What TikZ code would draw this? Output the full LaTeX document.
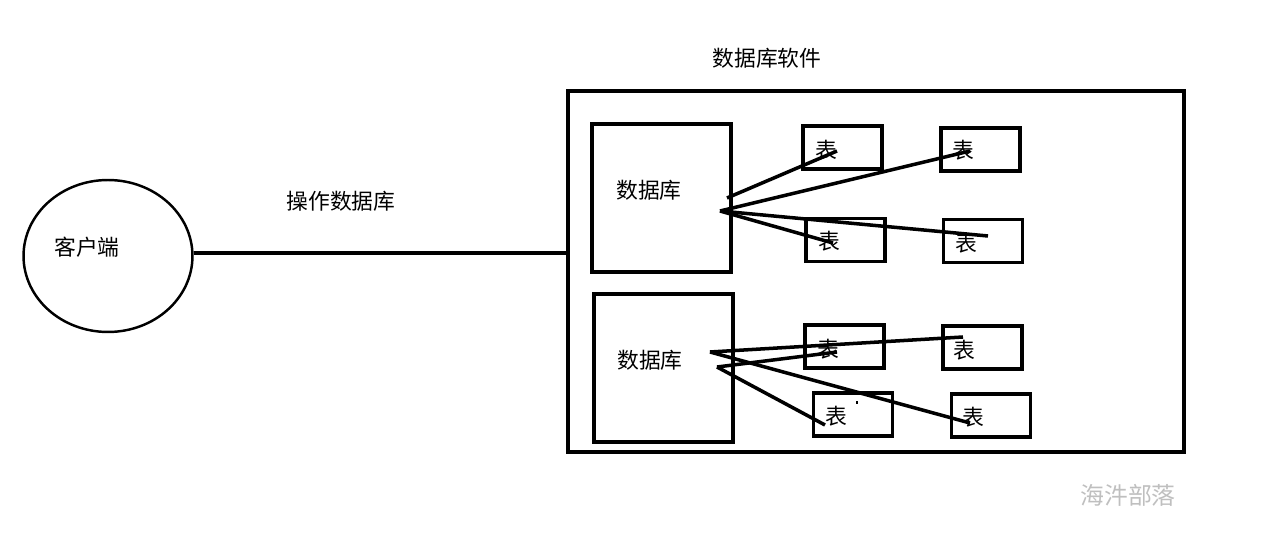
\documentclass[tikz,border=0pt]{standalone}
\usepackage{fontspec}
\setmainfont{Noto Sans CJK SC}
\usetikzlibrary{shapes.geometric}
\begin{document}
\begin{tikzpicture}[x=0.02cm, y=-0.02cm,
  box/.style={draw, line width=1.9pt, inner sep=0pt},
  dbbox/.style={box, minimum width=2.78cm, minimum height=2.96cm},
  tbl/.style={box, minimum width=1.58cm, minimum height=0.86cm},
  txt/.style={inner sep=0pt, font=\fontsize{12.4}{14}\selectfont},
  link/.style={line width=2pt}]
  \useasboundingbox (0,0) rectangle (1275,543);
  % client and the database software
  \node[draw, ellipse, line width=1.4pt, minimum width=3.38cm, minimum height=3.04cm] (client) at (108,256) {};
  \node[txt] (clienttxt) at (87,247) {客户端};
  \node[box, minimum width=12.32cm, minimum height=7.22cm] (dbsw) at (876,271.5) {};
  \node[txt] (dbswtxt) at (767,58) {数据库软件};
  \draw[link] (client.east |- 0,253) -- (dbsw.west |- 0,253);
  \node[txt] (optxt) at (341,201) {操作数据库};
  % databases
  \node[dbbox] (dbone) at (661.5,198) {};
  \node[txt] (dbonetxt) at (649,190) {数据库};
  \node[dbbox] (dbtwo) at (663.5,368) {};
  \node[txt] (dbtwotxt) at (650,360) {数据库};
  % tables
  \node[tbl] (tone) at (842.5,147.5) {};
  \node[tbl] (ttwo) at (980.5,149.5) {};
  \node[tbl] (tthree) at (845.5,240) {};
  \node[tbl] (tfour) at (983,241) {};
  \node[tbl] (tfive) at (844.5,346.5) {};
  \node[tbl] (tsix) at (982.5,347.5) {};
  \node[tbl] (tseven) at (853,414.5) {};
  \node[tbl] (teight) at (991,415.5) {};
  \node[txt] (tonetxt) at (826,150) {表};
  \node[txt] (ttwotxt) at (963,150) {表};
  \node[txt] (tthreetxt) at (829,241) {表};
  \node[txt] (tfourtxt) at (966,243) {表};
  \node[txt] (tfivetxt) at (828,349) {表};
  \node[txt] (tsixtxt) at (964,350) {表};
  \node[txt] (tseventxt) at (836,416) {表};
  \node[txt] (teighttxt) at (973,417) {表};
  % links
  \coordinate (pa) at (727,198);
  \coordinate (pb) at (720,211);
  \coordinate (pc) at (710,352);
  \coordinate (pd) at (717,367);
  \coordinate (eone) at (837,151);
  \coordinate (etwo) at (970,151);
  \coordinate (ethree) at (833,243);
  \coordinate (efour) at (988,236);
  \coordinate (efive) at (837,352);
  \coordinate (esix) at (963,337);
  \coordinate (eseven) at (825,425);
  \coordinate (eeight) at (970,423);
  \draw[link] (pa) -- (eone);
  \draw[link] (pb) -- (etwo);
  \draw[link] (pb) -- (ethree);
  \draw[link] (pb) -- (efour);
  \draw[link] (pc) -- (esix);
  \draw[link] (pc) -- (eeight);
  \draw[link] (pd) -- (efive);
  \draw[link] (pd) -- (eseven);
  \fill (856,401) rectangle (858,404);
  \node[txt, text=black!25, font=\fontsize{13.6}{16}\selectfont] (mark) at (1128,495) {海汼部落};
\end{tikzpicture}
\end{document}
